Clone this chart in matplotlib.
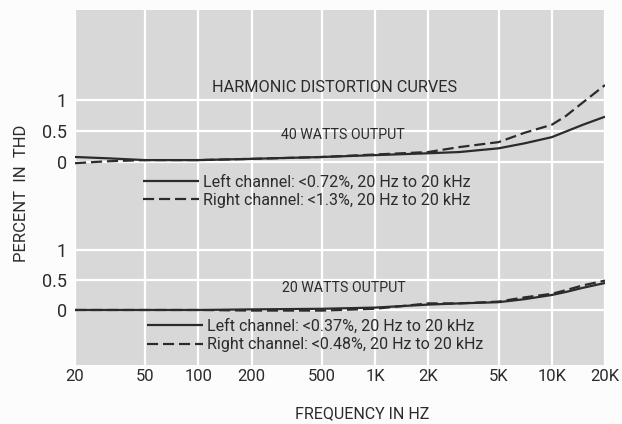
import numpy as np
import matplotlib
matplotlib.use("Agg")
import matplotlib.pyplot as plt

# the scan uses a condensed gothic type; Roboto is the narrowest face installed
plt.rcParams['font.family'] = ['Roboto', 'DejaVu Sans']

# values (percent THD vs frequency in Hz)
freq_hz = [20, 30, 50, 100, 200, 500, 1000, 2000, 3000, 5000, 7000, 10000, 12000, 15000, 20000]
w40_left = [0.08, 0.06, 0.03, 0.03, 0.05, 0.08, 0.11, 0.14, 0.16, 0.22, 0.30, 0.40, 0.49, 0.60, 0.73]
w40_right = [-0.02, 0.01, 0.03, 0.03, 0.05, 0.08, 0.12, 0.16, 0.24, 0.32, 0.47, 0.60, 0.74, 0.96, 1.24]
w20_left = [0.0, 0.0, 0.0, 0.0, 0.01, 0.02, 0.04, 0.09, 0.11, 0.13, 0.18, 0.25, 0.30, 0.37, 0.45]
w20_right = [0.0, 0.0, 0.0, 0.0, -0.01, -0.01, 0.02, 0.11, 0.11, 0.14, 0.21, 0.27, 0.33, 0.41, 0.49]

xticks = [20, 50, 100, 200, 500, 1000, 2000, 5000, 10000, 20000]
xlabels = ['20', '50', '100', '200', '500', '1K', '2K', '5K', '10K', '20K']
yticks = [0, 0.5, 1]
ylabels = ['0', '0.5', '1']

labels40 = ['Left channel: <0.72%, 20 Hz to 20 kHz', 'Right channel: <1.3%, 20 Hz to 20 kHz']
labels20 = ['Left channel: <0.37%, 20 Hz to 20 kHz', 'Right channel: <0.48%, 20 Hz to 20 kHz']

ink = '#2b2b2b'
bg = '#d8d8d8'

fig = plt.figure(figsize=(6.22, 4.24), dpi=100, facecolor='#fcfcfc')
W, H = 622, 424
left, right = 75, 605
split, top, bottom = 205, 10, 365
ax1 = fig.add_axes([left / W, 1 - split / H, (right - left) / W, (split - top) / H])
ax2 = fig.add_axes([left / W, 1 - bottom / H, (right - left) / W, (bottom - split) / H])
ax1.set_zorder(3)

for ax in (ax1, ax2):
    ax.set_facecolor(bg)
    ax.set_xscale('log')
    ax.set_xlim(20, 20000)
    ax.set_xticks(xticks)
    ax.set_xticklabels(xlabels)
    ax.minorticks_off()
    ax.set_yticks(yticks)
    ax.set_yticklabels(ylabels)
    ax.grid(True, color='white', lw=1.6)
    ax.set_axisbelow(True)
    for s in ax.spines.values():
        s.set_visible(False)
    ax.tick_params(length=0, colors=ink, pad=6, labelsize=13)

ax1.set_ylim(-0.694, 2.45)
ax2.set_ylim(-0.917, 1.75)
ax1.tick_params(axis='x', labelbottom=False)
ax2.tick_params(axis='x', pad=3, labelsize=12)

l1, = ax1.plot(freq_hz, w40_left, color=ink, lw=1.6, solid_capstyle='butt')
r1, = ax1.plot(freq_hz, w40_right, color=ink, lw=1.6, dashes=(5, 2.2))
l2, = ax2.plot(freq_hz, w20_left, color=ink, lw=1.6, solid_capstyle='butt')
r2, = ax2.plot(freq_hz, w20_right, color=ink, lw=1.6, dashes=(5, 2.2))

leg_kw = dict(frameon=False, loc='center left', fontsize=11.5, handlelength=3.5,
              handletextpad=0.25, labelspacing=0.2, borderpad=0, borderaxespad=0,
              labelcolor=ink)
ax1.legend([l1, r1], labels40, bbox_to_anchor=(0.128, 0.072), **leg_kw)
ax2.legend([l2, r2], labels20, bbox_to_anchor=(0.136, 0.185), **leg_kw)

ax1.text(0.489, 0.605, 'HARMONIC DISTORTION CURVES', transform=ax1.transAxes,
         ha='center', va='center', fontsize=11.7, color=ink)
ax1.text(0.506, 0.359, '40 WATTS OUTPUT', transform=ax1.transAxes,
         ha='center', va='center', fontsize=10.2, color=ink)
ax2.text(0.507, 0.481, '20 WATTS OUTPUT', transform=ax2.transAxes,
         ha='center', va='center', fontsize=10.2, color=ink)

fig.text(22 / W, 1 - 193 / H, 'PERCENT  IN  THD', rotation=90, ha='center',
         va='center', fontsize=12, color=ink)
fig.text(362 / W, 1 - 414 / H, 'FREQUENCY IN HZ', ha='center', va='center',
         fontsize=11.5, color=ink)

fig.savefig('out.png', dpi=100, facecolor=fig.get_facecolor())
